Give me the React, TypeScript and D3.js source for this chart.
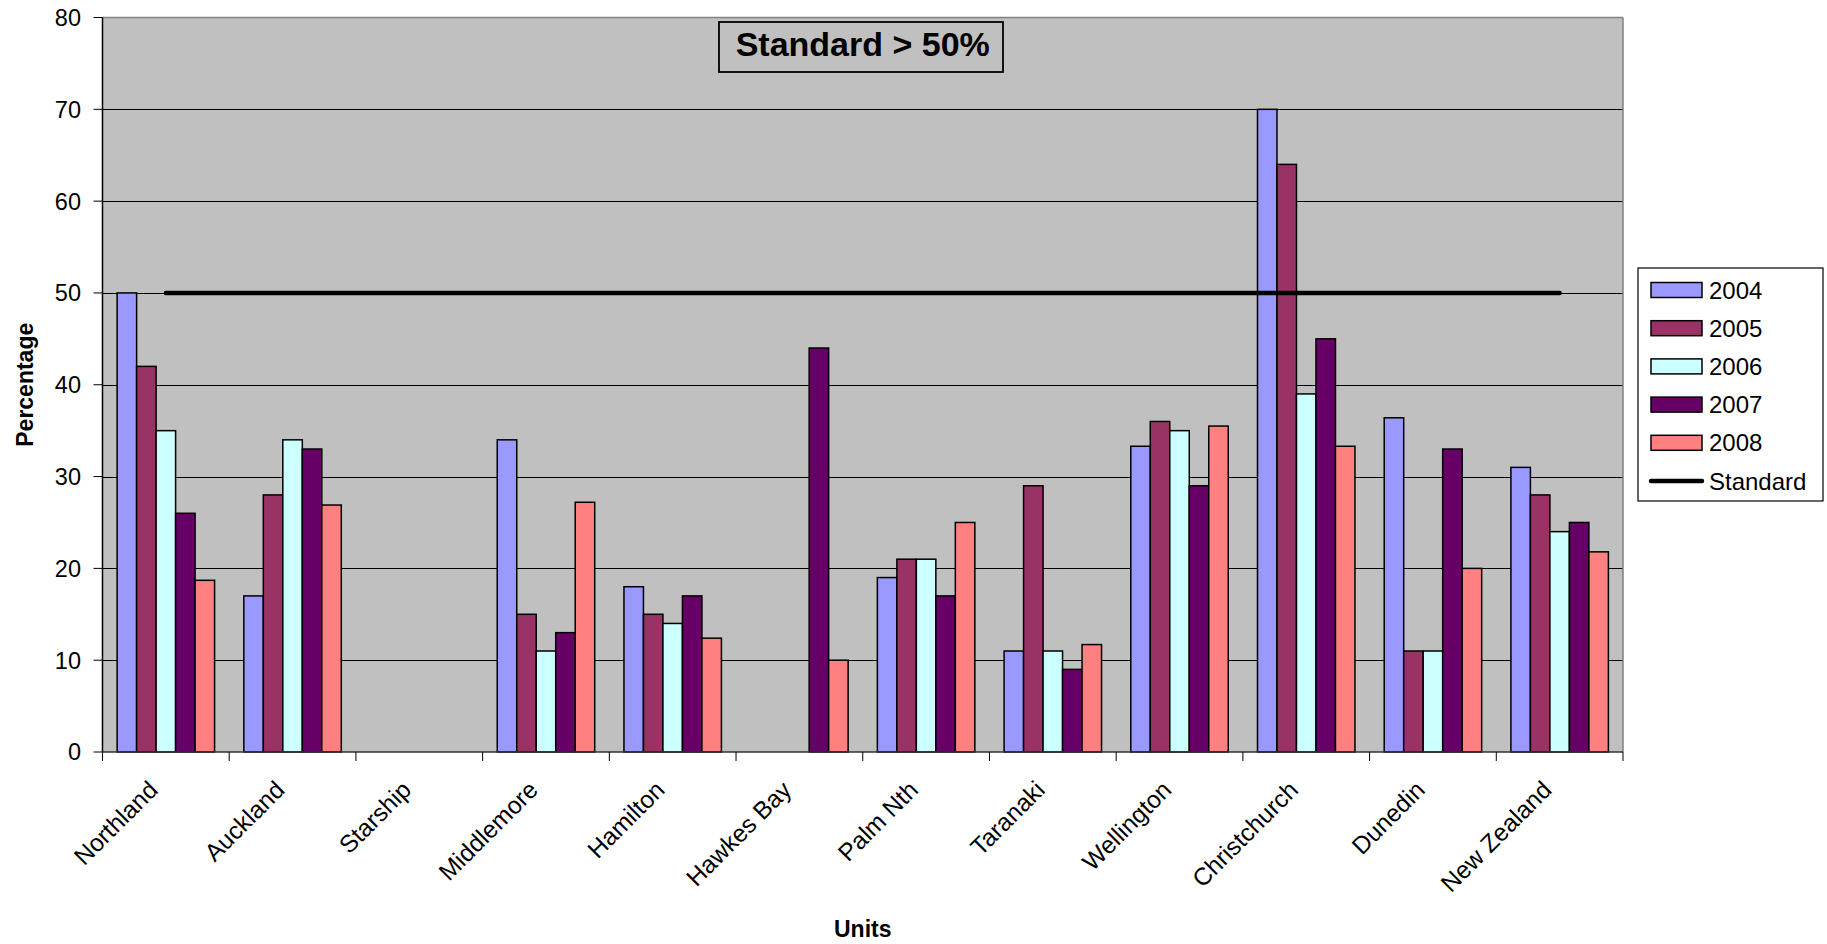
import React from "react";
import * as d3 from "d3";

const categories = ["Northland", "Auckland", "Starship", "Middlemore", "Hamilton", "Hawkes Bay", "Palm Nth", "Taranaki", "Wellington", "Christchurch", "Dunedin", "New Zealand"];
const years = ["2004", "2005", "2006", "2007", "2008"];
const v2004 = [50, 17, null, 34, 18, null, 19, 11, 33.3, 70, 36.4, 31];
const v2005 = [42, 28, null, 15, 15, null, 21, 29, 36, 64, 11, 28];
const v2006 = [35, 34, null, 11, 14, null, 21, 11, 35, 39, 11, 24];
const v2007 = [26, 33, null, 13, 17, 44, 17, 9, 29, 45, 33, 25];
const v2008 = [18.7, 26.9, null, 27.2, 12.4, 10, 25, 11.7, 35.5, 33.3, 20, 21.8];
const standardValue = 50;
const yTicks = [0, 10, 20, 30, 40, 50, 60, 70, 80];
const colors = ["#9999FF", "#993366", "#CCFFFF", "#660066", "#FF8080"];
const seriesValues = [v2004, v2005, v2006, v2007, v2008];

const W = 1827, H = 944;
const left = 102.5, right = 1623, top = 17.5, bottom = 752;
const font = "'Liberation Sans', Arial, sans-serif";

export default function App() {
  const x0 = d3.scaleBand<string>().domain(categories).range([left, right]).padding(0);
  const x1 = d3.scaleBand<string>().domain(years).range([0, x0.bandwidth()]).paddingInner(0).paddingOuter(0.75);
  const y = d3.scaleLinear().domain([0, 80]).range([bottom, top]);
  const firstC = x0(categories[0])! + x0.bandwidth() / 2;
  const lastC = x0(categories[categories.length - 1])! + x0.bandwidth() / 2;
  const stdLine = d3.line<number>().x((d) => d).y(() => y(standardValue))([firstC, lastC]);
  const legendX = 1638, legendY = 268, legendW = 185, legendH = 233;
  const rowY = (i: number) => 290 + i * 38.2;
  return (
    <svg width={W} height={H} style={{ position: "absolute", left: 0, top: 0, fontFamily: font }}>
      <rect x={0} y={0} width={W} height={H} fill="#fff" />
      <rect x={left} y={top} width={right - left} height={bottom - top} fill="#C0C0C0" />
      {yTicks.filter((t) => t > 0 && t < 80).map((t) => (
        <line key={t} x1={left} x2={right} y1={Math.round(y(t)) + 0.5} y2={Math.round(y(t)) + 0.5} stroke="#000" strokeWidth={1} />
      ))}
      <line x1={left} x2={right} y1={top} y2={top} stroke="#808080" strokeWidth={1.5} />
      <line x1={right} x2={right} y1={top} y2={bottom} stroke="#808080" strokeWidth={1.5} />
      {seriesValues.map((vals, si) =>
        vals.map((v, ci) =>
          v == null ? null : (
            <rect key={`${si}-${ci}`} x={x0(categories[ci])! + x1(years[si])!} y={y(v)} width={x1.bandwidth()} height={y(0) - y(v)} fill={colors[si]} stroke="#000" strokeWidth={1.5} />
          )
        )
      )}
      <path d={stdLine || ""} stroke="#000" strokeWidth={4.5} strokeLinecap="round" fill="none" />
      <line x1={left} x2={left} y1={top} y2={bottom} stroke="#000" strokeWidth={1.5} />
      <line x1={left} x2={right} y1={bottom} y2={bottom} stroke="#333" strokeWidth={1.5} />
      {yTicks.map((t) => (
        <g key={t}>
          <line x1={left - 9} x2={left} y1={y(t)} y2={y(t)} stroke="#000" strokeWidth={1} />
          <text x={81} y={y(t)} dy="0.36em" textAnchor="end" fontSize={23.5} fill="#000">{t}</text>
        </g>
      ))}
      {[...categories.map((c) => x0(c)!), right].map((xv, i) => (
        <line key={i} x1={xv} x2={xv} y1={bottom} y2={bottom + 9} stroke="#000" strokeWidth={1} />
      ))}
      {categories.map((c) => {
        const cx = x0(c)! + x0.bandwidth() / 2;
        return (
          <text key={c} transform={`translate(${cx - 19},${bottom + 27}) rotate(-45)`} textAnchor="end" dy="0.72em" fontSize={24.5} fill="#000">{c}</text>
        );
      })}
      <rect x={719} y={22} width={284} height={50} fill="none" stroke="#000" strokeWidth={1.8} />
      <text x={(left + right) / 2} y={56} textAnchor="middle" fontSize={34} fontWeight="bold" fill="#000">Standard &gt; 50%</text>
      <text transform={`translate(33,${(top + bottom) / 2}) rotate(-90)`} textAnchor="middle" fontSize={23} fontWeight="bold" fill="#000">Percentage</text>
      <text x={(left + right) / 2} y={937} textAnchor="middle" fontSize={23} fontWeight="bold" fill="#000">Units</text>
      <rect x={legendX} y={legendY} width={legendW} height={legendH} fill="#fff" stroke="#000" strokeWidth={1.2} />
      {years.map((yr, i) => (
        <g key={yr}>
          <rect x={1651} y={rowY(i) - 7.5} width={51} height={15} fill={colors[i]} stroke="#000" strokeWidth={1.5} />
          <text x={1709} y={rowY(i)} dy="0.36em" fontSize={24} fill="#000">{yr}</text>
        </g>
      ))}
      <line x1={1651} x2={1702} y1={rowY(5)} y2={rowY(5)} stroke="#000" strokeWidth={4.5} strokeLinecap="round" />
      <text x={1709} y={rowY(5)} dy="0.36em" fontSize={24} fill="#000">Standard</text>
    </svg>
  );
}
